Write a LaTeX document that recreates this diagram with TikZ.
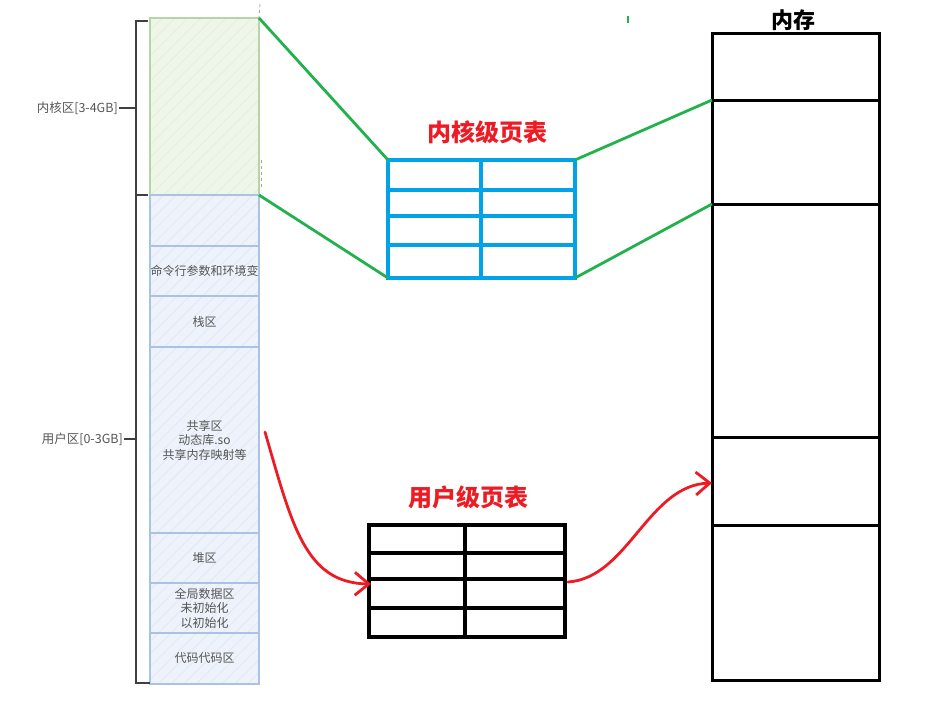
\documentclass[tikz,border=0pt]{standalone}
\usepackage{fontspec}
\newfontfamily\cjk{Noto Sans CJK SC}
\usetikzlibrary{calc,arrows.meta,patterns.meta}
\definecolor{kfill}{HTML}{EEF6EA}
\definecolor{kdraw}{HTML}{B5D6A4}
\definecolor{ufill}{HTML}{EEF3FB}
\definecolor{udraw}{HTML}{A9C2E6}
\definecolor{khatch}{HTML}{E3EFDD}
\definecolor{uhatch}{HTML}{DFE8F6}
\definecolor{tblue}{HTML}{00A2E8}
\definecolor{pgreen}{HTML}{22B14C}
\definecolor{pred}{HTML}{ED1C24}
\definecolor{ltext}{HTML}{555555}
\tikzset{
  kbox/.style={draw=kdraw, line width=1.2pt, preaction={fill=kfill},
    pattern={Lines[angle=45,distance=9pt,line width=0.7pt]}, pattern color=khatch,
    minimum width=109pt, inner sep=0pt, outer sep=0pt},
  ubox/.style={draw=udraw, line width=1.2pt, preaction={fill=ufill},
    pattern={Lines[angle=45,distance=9pt,line width=0.7pt]}, pattern color=uhatch,
    minimum width=109pt, inner sep=0pt, outer sep=0pt, align=center,
    font=\cjk\fontsize{12}{14.5}\selectfont, text=ltext},
  sidelab/.style={font=\cjk\fontsize{12.5}{14}\selectfont, text=ltext, inner sep=1pt},
  ktable/.style={draw=tblue, line width=3.5pt, minimum width=187pt, minimum height=118pt, inner sep=0pt, outer sep=0pt},
  utable/.style={draw=black, line width=3.5pt, minimum width=196pt, minimum height=112pt, inner sep=0pt, outer sep=0pt},
  memcell/.style={draw=black, line width=3pt, minimum width=167pt, inner sep=0pt, outer sep=0pt},
  title/.style={font=\cjk\bfseries\fontsize{24}{26}\selectfont, text=pred},
  gline/.style={draw=pgreen, line width=2.8pt},
  rarrow/.style={draw=pred, line width=2.8pt, line cap=round, -{Straight Barb[length=14pt,width=23pt,line width=2.8pt]}},
  bracket/.style={draw=black!75, line width=1.6pt}
}
\begin{document}
\begin{tikzpicture}[x=1pt,y=-1pt]
\useasboundingbox (0,0) rectangle (932,715);
% left column
\node[kbox, minimum height=177pt] (kern) at (204.5,106.5) {};
\node[ubox, minimum height=51pt] (u1) at (204.5,220.5) {};
\node[ubox, minimum height=50pt] (u2) at (204.5,271) {命令行参数和环境变};
\node[ubox, minimum height=51pt] (u3) at (204.5,321.5) {栈区};
\node[ubox, minimum height=186pt] (u4) at (204.5,440) {共享区\\动态库.so\\共享内存映射等};
\node[ubox, minimum height=50pt] (u5) at (204.5,558) {堆区};
\node[ubox, minimum height=50pt] (u6) at (204.5,608) {全局数据区\\未初始化\\以初始化};
\node[ubox, minimum height=51pt] (u7) at (204.5,658.5) {代码代码区};
% sketch artifacts
\draw[black!35, line width=0.8pt, dashed] (260,4) -- (kern.north east);
\draw[black!35, line width=0.8pt, dashed] (261,160) -- (261,190);
\draw[pgreen, line width=2pt] (628,16) -- (628,23);
% bracket
\coordinate (bt) at (136,21);
\coordinate (bb) at (136,683);
\draw[bracket] (148,21) -- (bt) -- (bb) -- (150,683);
\draw[bracket] (136,195) -- (148,195);
\node[sidelab, anchor=east] (klab) at (119,108) {内核区[3-4GB]};
\node[sidelab, anchor=east] (ulab) at (124,439) {用户区[0-3GB]};
\draw[bracket] (klab.east) -- (klab.east -| bt);
\draw[bracket] (ulab.east) -- (ulab.east -| bt);
% kernel page table
\node[ktable] (ktab) at (481.5,219) {};
\draw[tblue, line width=3.5pt] (ktab.north) ++(-0.5,0) -- ($(ktab.south)+(-0.5,0)$);
\foreach \yy in {190,216,245} \draw[tblue, line width=3.5pt] (ktab.west |- 0,\yy) -- (ktab.east |- 0,\yy);
\node[title] (ktitle) at (487,132) {内核级页表};
% user page table
\node[utable] (utab) at (467,581) {};
\draw[black, line width=3.5pt] (465,525) -- (465,637);
\foreach \yy in {553,579,608} \draw[black, line width=3.5pt] (utab.west |- 0,\yy) -- (utab.east |- 0,\yy);
\node[title] (utitle) at (468,497) {用户级页表};
% memory
\node[memcell, minimum height=67pt] (m1) at (795.5,66.5) {};
\node[memcell, minimum height=104pt] (m2) at (795.5,152) {};
\node[memcell, minimum height=233pt] (m3) at (795.5,320.5) {};
\node[memcell, minimum height=88pt] (m4) at (795.5,481) {};
\node[memcell, minimum height=155pt] (m5) at (795.5,602.5) {};
\node[font=\cjk\bfseries\fontsize{22}{24}\selectfont] (mtitle) at (793,20) {内存};
% green mapping lines
\draw[gline] (kern.north east) -- (ktab.north west);
\draw[gline] (kern.south east) -- (ktab.south west);
\draw[gline] (ktab.north east) -- (m2.north west);
\draw[gline] (ktab.south east) -- (m3.north west);
% red arrows
\draw[rarrow] ($(u4.east)+(6,-8)$) .. controls (292,525) and (305,583) .. ($(utab.west)+(2,3)$);
\draw[rarrow] ($(utab.east)+(3,1)$) .. controls (628,578) and (648,485) .. ($(m4.west)+(0,2)$);
\end{tikzpicture}
\end{document}
